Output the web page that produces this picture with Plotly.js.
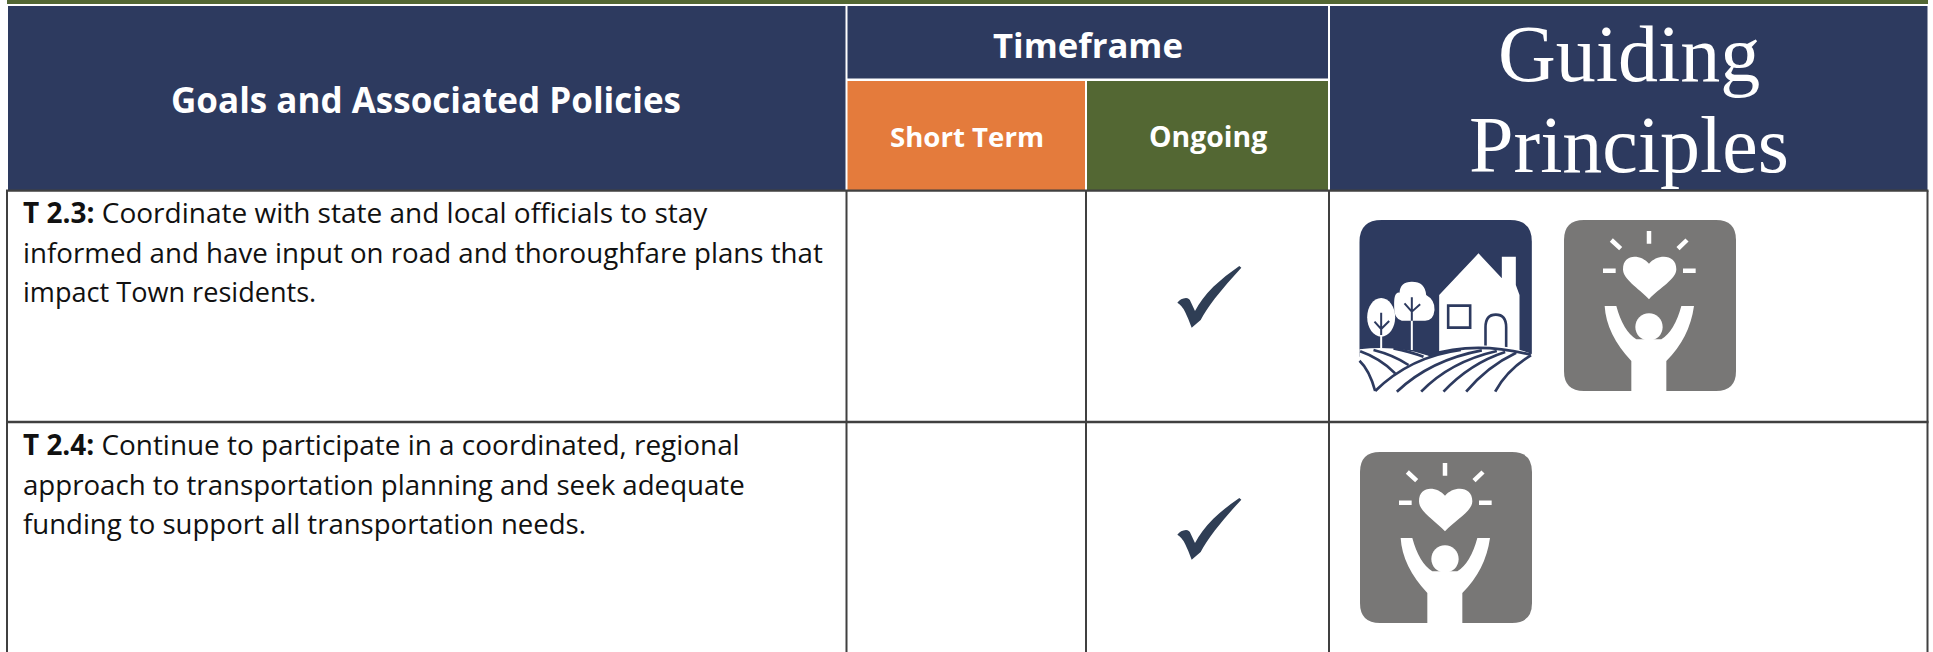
<!DOCTYPE html>
<html><head><meta charset="utf-8">
<script src="https://cdn.plot.ly/plotly-3.0.1.min.js"></script>
<style>html,body{margin:0;padding:0;background:#fff;overflow:hidden}#c{width:1933px;height:652px}</style>
</head><body><div id="c"></div>
<script>
// ---- content
const headers = ["Goals and Associated Policies","Timeframe","Short Term","Ongoing"];
const principlesTitle = ["Guiding","Principles"];
const rowIds = ["T 2.3:","T 2.4:"];
const row1Lines = ["Coordinate with state and local officials to stay","informed and have input on road and thoroughfare plans that","impact Town residents."];
const row2Lines = ["Continue to participate in a coordinated, regional","approach to transportation planning and seek adequate","funding to support all transportation needs."];
const ongoingChecked = [true,true];
// ---- colours
const NAVY="#2d3a5f", ORANGE="#e47b3c", GREEN="#536733", GRID="#404040", GRAY="#787776", CHECK="#2f3e55";
// ---- table geometry (pixel grid of the page)
const colX=[7,846.5,1086,1329,1927.5];
const headY=[6,79.7,190];
const rowY=[190.7,422,652];
const SANS="'Open Sans', 'Noto Sans', sans-serif";

const shapes=[];
function rect(x0,y0,x1,y1,fill){shapes.push({type:"rect",layer:"below",xref:"x",yref:"y",x0,y0,x1,y1,fillcolor:fill,line:{width:0}});}
function seg(x0,y0,x1,y1,color,w){shapes.push({type:"line",layer:"below",xref:"x",yref:"y",x0,y0,x1,y1,line:{color,width:w}});}

rect(7,0,1928,4,GREEN);
rect(colX[0]+1,headY[0],colX[1],headY[2],NAVY);
rect(colX[1],headY[0],colX[3],headY[1],NAVY);
rect(colX[1],headY[1],colX[2],headY[2],ORANGE);
rect(colX[2],headY[1],colX[3],headY[2],GREEN);
rect(colX[3],headY[0],colX[4],headY[2],NAVY);
// white header rules
seg(colX[1],headY[0],colX[1],headY[2],"#fff",2);
seg(colX[3],headY[0],colX[3],headY[2],"#fff",2);
seg(colX[2],headY[1],colX[2],headY[2],"#fff",2);
seg(colX[1],headY[1],colX[3],headY[1],"#fff",2.4);
// dark body rules
rowY.slice(0,2).forEach(y=>seg(colX[0]-1,y,colX[4]+1,y,GRID,2.3));
colX.forEach(x=>seg(x,rowY[0],x,652,GRID,2));

// ---- icons, path coords in a 3x local drawing space
function ell(cx,cy,rx,ry){const k=.5523;return `M${cx-rx},${cy} C${cx-rx},${cy-k*ry} ${cx-k*rx},${cy-ry} ${cx},${cy-ry} C${cx+k*rx},${cy-ry} ${cx+rx},${cy-k*ry} ${cx+rx},${cy} C${cx+rx},${cy+k*ry} ${cx+k*rx},${cy+ry} ${cx},${cy+ry} C${cx-k*rx},${cy+ry} ${cx-rx},${cy+k*ry} ${cx-rx},${cy} Z`;}
const W="#ffffff", FL=2.7;
const homeIcon={x0:58,y0:30,parts:[
 {d:"M58,440 L58,95 Q58,30 125,30 L510,30 Q575,30 575,95 L575,440 Z",fill:NAVY},
 {d:"M297,255 L415,130 L485,205 L485,140 L527,140 L527,225 L538,255 L538,420 L297,428 Z",fill:W},
 {d:"M324,287 L390,287 L390,353 L324,353 Z",fill:W,line:NAVY,w:2.6},
 {d:"M436,412 L436,352 Q436,314 467,314 Q498,314 498,352 L498,412",line:NAVY,w:2.6},
 {d:ell(123,322,42,58),fill:W},
 {d:"M123,375 L123,420",line:W,w:2},
 {d:"M123,308 L123,375 M103,335 L123,357 L147,333",line:NAVY,w:2},
 {d:"M162,290 Q160,245 178,248 Q180,215 215,215 Q255,215 258,255 Q285,270 283,300 Q280,332 255,332 L185,332 Q160,325 162,290 Z",fill:W},
 {d:"M215,332 L215,420",line:W,w:2},
 {d:"M215,262 L215,332 M193,280 L215,305 L240,283",line:NAVY,w:2},
 {d:"M58,418 Q170,405 265,437 Q340,410 420,407 Q510,405 575,432 L575,490 Q575,545 510,545 L120,545 Q58,545 58,490 Z",fill:W},
 {d:"M265,437 Q400,392 572,434",line:NAVY,w:FL},
 {d:"M105,543 Q210,440 362,420",line:NAVY,w:FL},
 {d:"M170,545 Q270,450 425,421",line:NAVY,w:FL},
 {d:"M243,545 Q330,455 470,423",line:NAVY,w:FL},
 {d:"M310,545 Q390,460 495,426",line:NAVY,w:FL},
 {d:"M378,545 Q440,470 528,428",line:NAVY,w:FL},
 {d:"M465,545 Q500,480 572,436",line:NAVY,w:FL},
 {d:"M58,452 Q88,480 105,543",line:NAVY,w:FL},
 {d:"M60,424 Q120,445 165,490",line:NAVY,w:FL},
 {d:"M100,420 Q160,435 205,465",line:NAVY,w:FL},
 {d:"M160,415 Q210,425 250,440",line:NAVY,w:FL}
]};
const careIcon={x0:118,y0:67,parts:[
 {d:"M118,127 Q118,67 178,67 L574,67 Q634,67 634,127 L634,520 Q634,580 574,580 L178,580 Q118,580 118,520 Z",fill:GRAY},
 {d:"M373,100 L373,138 M260,127 L288,153 M487,127 L460,153 M235,219 L273,219 M475,219 L513,219",line:W,w:4.5},
 {d:"M373,198 C350,170 295,165 295,215 C295,245 340,270 373,305 C405,270 455,245 455,215 C455,165 395,170 373,198 Z",fill:W},
 {d:"M240,325 L275,325 Q295,400 335,425 L410,425 Q450,400 470,325 L508,325 Q495,420 425,490 L425,580 L320,580 L320,490 Q245,410 240,325 Z",fill:W},
 {d:ell(373,388,41,41),fill:W}
]};
const checkIcon={x0:0,y0:0,parts:[
 {d:"M52,143 Q62,130 78,129 Q88,129 92,140 L105,168 Q125,130 160,95 Q195,62 238,33 L244,38 Q200,85 165,130 Q135,170 122,195 L95,218 Q85,190 75,170 Q65,150 52,143 Z",fill:CHECK}
]};
function placeIcon(icon,px,py){
 icon.parts.forEach(p=>{
  const path=p.d.replace(/(-?\d+\.?\d*),(-?\d+\.?\d*)/g,(m,a,b)=>`${(px+(a-icon.x0)/3).toFixed(2)},${(py+(b-icon.y0)/3).toFixed(2)}`);
  shapes.push({type:"path",layer:"below",xref:"x",yref:"y",path,
    fillcolor:p.fill||"rgba(0,0,0,0)",
    line:p.line?{color:p.line,width:p.w}:{width:0}});
 });
}
placeIcon(homeIcon,1359.5,220);
placeIcon(careIcon,1564,220);
placeIcon(careIcon,1360,452);
const checkRowTop=[255,487];
ongoingChecked.forEach((on,i)=>{ if(on) placeIcon(checkIcon,1160,checkRowTop[i]); });

// ---- text
const annotations=[];
function label(text,x,y,size,opt={}){
 annotations.push({xref:"x",yref:"y",x,y,text,showarrow:false,
   xanchor:opt.xa||"center",yanchor:"middle",align:opt.xa||"center",
   font:{family:opt.family||SANS,size,color:opt.color||"#fff"},borderpad:0});
}
label("<b>"+headers[0]+"</b>",426,99.5,35);
label("<b>"+headers[1]+"</b>",1088,44,34.7);
label("<b>"+headers[2]+"</b>",966.5,136,27.6);
label("<b>"+headers[3]+"</b>",1208,136,28.4);
label(principlesTitle[0],1629,53.5,80,{family:"'Liberation Serif',serif"});
label(principlesTitle[1],1629,144.5,80,{family:"'Liberation Serif',serif"});
const BODY="#111111";
function para(id,lines,ys,sizes){
 lines.forEach((t,i)=>label((i===0?"<b>"+id+"</b> ":"")+t,21.5,ys[i],sizes[i],{xa:"left",color:BODY}));
}
para(rowIds[0],row1Lines,[212,252,291],[28,27.7,27.1]);
para(rowIds[1],row2Lines,[443.5,484,523],[27.9,27.65,27.55]);

Plotly.newPlot("c",[],{
  width:1933,height:652,margin:{l:0,r:0,t:0,b:0,pad:0},
  paper_bgcolor:"#fff",plot_bgcolor:"#fff",showlegend:false,
  xaxis:{range:[0,1933],visible:false,fixedrange:true},
  yaxis:{range:[652,0],visible:false,fixedrange:true},
  shapes,annotations
},{displayModeBar:false,staticPlot:true});
</script></body></html>
